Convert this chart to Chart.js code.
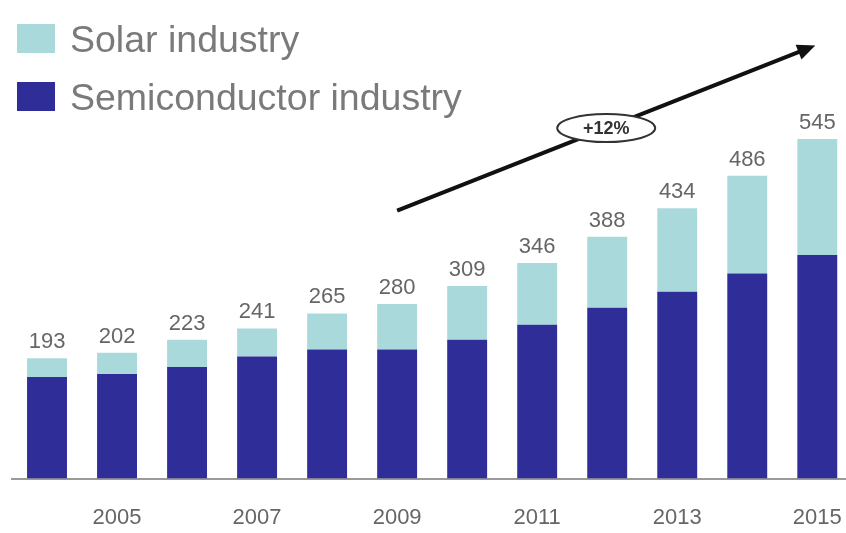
<!DOCTYPE html>
<html>
<head>
<meta charset="utf-8">
<script src="https://cdn.jsdelivr.net/npm/chart.js@4/dist/chart.umd.min.js"></script>
<style>
  html, body { margin: 0; padding: 0; background: #fff; overflow: hidden; }
  #wrap { position: relative; width: 868px; height: 562px; }
</style>
</head>
<body>
<div id="wrap"><canvas id="chart" width="868" height="562"></canvas></div>
<script>
// values
const years = ['2004', '2005', '2006', '2007', '2008', '2009', '2010', '2011', '2012', '2013', '2014', '2015'];
const semiconductor = [163, 168, 179, 196, 207, 207, 223, 247, 274, 300, 329, 359];
const solar = [30, 34, 44, 45, 58, 73, 86, 99, 114, 134, 157, 186];
const totals = [193, 202, 223, 241, 265, 280, 309, 346, 388, 434, 486, 545];
const growthLabel = '+12%';

const DARK = '#2f2d98';
const LIGHT = '#aad9dc';
const FONT = '"Liberation Sans", Arial, sans-serif';

// totals above the bars
const totalsPlugin = {
  id: 'totals',
  afterDatasetsDraw(chart) {
    const ctx = chart.ctx;
    const top = chart.getDatasetMeta(1);
    ctx.save();
    ctx.font = '22px ' + FONT;
    ctx.fillStyle = '#666';
    ctx.textAlign = 'center';
    ctx.textBaseline = 'alphabetic';
    top.data.forEach((bar, i) => {
      ctx.fillText(String(totals[i]), bar.x, bar.y - 10);
    });
    ctx.restore();
  }
};

// legend in the top left + the growth arrow
const decoPlugin = {
  id: 'deco',
  afterDraw(chart) {
    const ctx = chart.ctx;
    const x = chart.scales.x, y = chart.scales.y;
    ctx.save();

    // legend
    const items = [[LIGHT, 'Solar industry', 24], [DARK, 'Semiconductor industry', 82]];
    items.forEach(([c, t, ty]) => {
      ctx.fillStyle = c;
      ctx.fillRect(17, ty, 38, 29);
      ctx.fillStyle = '#7a7a7a';
      ctx.font = '37.5px ' + FONT;
      ctx.textBaseline = 'alphabetic';
      ctx.textAlign = 'left';
      ctx.fillText(t, 70, ty + 28);
    });

    // arrow from 2009 up to 2015
    const x0 = x.getPixelForValue(5), y0 = y.getPixelForValue(430);
    const x1 = x.getPixelForValue(11) - 2, y1 = y.getPixelForValue(695);
    const ang = Math.atan2(y1 - y0, x1 - x0);
    ctx.strokeStyle = '#111';
    ctx.lineWidth = 4;
    ctx.beginPath();
    ctx.moveTo(x0, y0);
    ctx.lineTo(x1 - 12 * Math.cos(ang), y1 - 12 * Math.sin(ang));
    ctx.stroke();
    ctx.fillStyle = '#111';
    ctx.beginPath();
    ctx.moveTo(x1, y1);
    ctx.lineTo(x1 - 18 * Math.cos(ang) + 8 * Math.sin(ang), y1 - 18 * Math.sin(ang) - 8 * Math.cos(ang));
    ctx.lineTo(x1 - 18 * Math.cos(ang) - 8 * Math.sin(ang), y1 - 18 * Math.sin(ang) + 8 * Math.cos(ang));
    ctx.closePath();
    ctx.fill();

    // ellipse label on the arrow
    const cx = x0 + (x1 - x0) * 0.5, cy = y0 + (y1 - y0) * 0.5;
    ctx.beginPath();
    ctx.ellipse(cx, cy, 49, 14, 0, 0, Math.PI * 2);
    ctx.fillStyle = '#fff';
    ctx.fill();
    ctx.lineWidth = 2;
    ctx.strokeStyle = '#333';
    ctx.stroke();
    ctx.fillStyle = '#333';
    ctx.font = 'bold 18px ' + FONT;
    ctx.textAlign = 'center';
    ctx.textBaseline = 'middle';
    ctx.fillText(growthLabel, cx, cy + 1);
    ctx.restore();
  }
};

new Chart(document.getElementById('chart'), {
  type: 'bar',
  data: {
    labels: years,
    datasets: [
      { label: 'Semiconductor industry', data: semiconductor, backgroundColor: DARK },
      { label: 'Solar industry', data: solar, backgroundColor: LIGHT }
    ]
  },
  options: {
    responsive: false,
    animation: false,
    layout: { padding: { left: 12, right: 6, top: 0, bottom: 5 } },
    datasets: { bar: { categoryPercentage: 1, barPercentage: 0.57 } },
    plugins: { legend: { display: false }, tooltip: { enabled: false } },
    scales: {
      x: {
        stacked: true,
        grid: { display: false, drawTicks: false },
        border: { color: '#9a9a9a', width: 2 },
        ticks: {
          autoSkip: false,
          maxRotation: 0,
          padding: 26,
          color: '#666',
          font: { size: 22, family: FONT },
          callback: (v, i) => (i % 2 === 1 ? years[i] : '')
        }
      },
      y: {
        stacked: true,
        display: false,
        min: 0,
        max: 768
      }
    }
  },
  plugins: [totalsPlugin, decoPlugin]
});
</script>
</body>
</html>
